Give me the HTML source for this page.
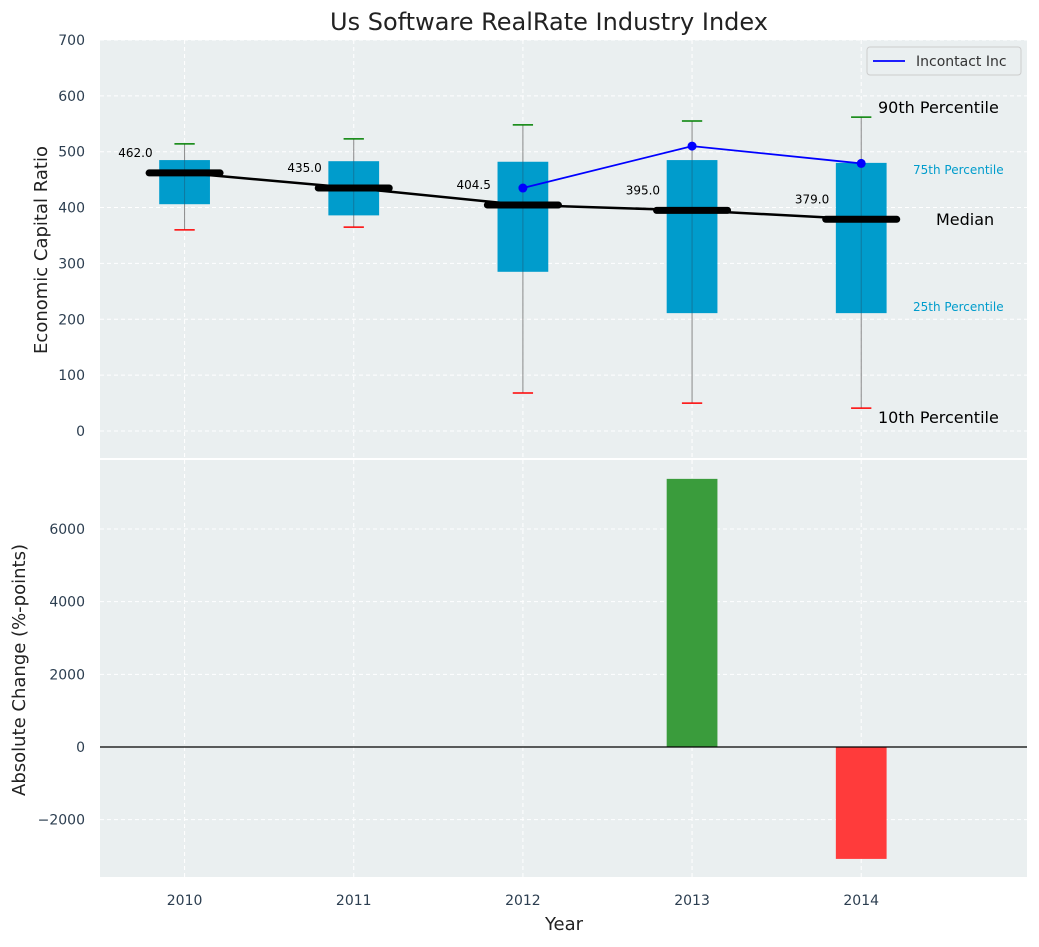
<!DOCTYPE html>
<html><head><meta charset="utf-8"><style>
body{margin:0;background:#fff;font-family:"Liberation Sans","DejaVu Sans",sans-serif}
svg text{font-family:"DejaVu Sans","Liberation Sans",sans-serif}
</style></head><body>
<svg id="c" width="1039" height="942"></svg>
<script>
const years=[2010,2011,2012,2013,2014];
const p10=[360,365,68,50,41];
const p25=[406,386,285,211,211];
const medians=[462,435,404.5,395,379];
const p75=[485,483,482,485,480];
const p90=[514,523,548,555,562];
const companyYears=[2012,2013,2014];
const companyVals=[435,510,479];
const changeVals=[0,0,0,7380,-3080];
const topTicks=[0,100,200,300,400,500,600,700];
const botTicks=[-2000,0,2000,4000,6000];
const NS="http://www.w3.org/2000/svg";
const svg=document.getElementById('c');
function el(t,a,p){const e=document.createElementNS(NS,t);for(const k in a)e.setAttribute(k,a[k]);(p||svg).appendChild(e);return e;}
function tx(x,y,s,a,p){const e=el('text',Object.assign({x:x,y:y},a),p);e.textContent=s;return e;}
const L=100,R=1027;
const X=v=>L+(v-2009.5)*(R-L)/5.48;
const T0=40,T1=458,B0=460,B1=877;
const Y1=v=>431-v*0.5586;
const Y2=v=>747-v*0.036333;
let r=el('rect',{x:L,y:T0,width:R-L,height:T1-T0,fill:'#eaeff0'});

r=el('rect',{x:L,y:B0,width:R-L,height:B1-B0,fill:'#eaeff0'});

years.forEach(y=>{el('line',{x1:X(y),x2:X(y),y1:T0,y2:T1,stroke:'#fff','stroke-dasharray':'4,3'});el('line',{x1:X(y),x2:X(y),y1:B0,y2:B1,stroke:'#fff','stroke-dasharray':'4,3'});
 const t=tx(X(y),905,y,{'text-anchor':'middle','font-size':14,fill:'#2c3e50'});
 });
topTicks.forEach(v=>{el('line',{x1:L,x2:R,y1:Y1(v),y2:Y1(v),stroke:'#fff','stroke-dasharray':'4,3'});
 const t=tx(85,Y1(v)+5,v,{'text-anchor':'end','font-size':14,fill:'#2c3e50'});
 });
botTicks.forEach(v=>{el('line',{x1:L,x2:R,y1:Y2(v),y2:Y2(v),stroke:'#fff','stroke-dasharray':'4,3'});
 const t=tx(85,Y2(v)+5,v<0?'\u2212'+(-v):v,{'text-anchor':'end','font-size':14,fill:'#2c3e50'});
 });
const bw=(R-L)/5.48*0.3, cw=(R-L)/5.48*0.12;
years.forEach((y,i)=>{const x=X(y);
 let w=el('line',{x1:x,x2:x,y1:Y1(p90[i]),y2:Y1(p10[i]),stroke:'#888','stroke-width':1});
 
 let b=el('rect',{x:x-bw/2,y:Y1(p75[i]),width:bw,height:Y1(p25[i])-Y1(p75[i]),fill:'#009ccc'});
 
 el('line',{x1:x,x2:x,y1:Y1(p75[i]),y2:Y1(p25[i]),stroke:'#1a6080','stroke-width':1,opacity:0.6});
 el('line',{x1:x-cw/2,x2:x+cw/2,y1:Y1(p90[i]),y2:Y1(p90[i]),stroke:'green','stroke-width':1.5});
 el('line',{x1:x-cw/2,x2:x+cw/2,y1:Y1(p10[i]),y2:Y1(p10[i]),stroke:'red','stroke-width':1.5});
});
let pts=years.map((y,i)=>X(y)+','+Y1(medians[i])).join(' ');
let ml=el('polyline',{points:pts,fill:'none',stroke:'#000','stroke-width':2.5});

const mw=(R-L)/5.48*0.42;
years.forEach((y,i)=>{const x=X(y);
 let m=el('line',{x1:x-mw/2,x2:x+mw/2,y1:Y1(medians[i]),y2:Y1(medians[i]),stroke:'#000','stroke-width':7,'stroke-linecap':'round'});
 
 const t=tx(x-32,Y1(medians[i])-16,medians[i].toFixed(1),{'text-anchor':'end','font-size':12,fill:'#000'});
 });
let cp=el('polyline',{points:companyYears.map((y,i)=>X(y)+','+Y1(companyVals[i])).join(' '),fill:'none',stroke:'blue','stroke-width':1.8});

companyYears.forEach((y,i)=>{let c=el('circle',{cx:X(y),cy:Y1(companyVals[i]),r:4.5,fill:'blue'});
 });
[['90th Percentile',878,113,16,'#000'],['75th Percentile',913,174,12,'#009ccc'],['Median',936,225,16,'#000'],['25th Percentile',913,311,12,'#009ccc'],['10th Percentile',878,423,16,'#000']].forEach(a=>{
 const t=tx(a[1],a[2],a[0],{'font-size':a[3],fill:a[4]});});
let lg=el('g',{});
el('rect',{x:867,y:47,width:154,height:28,rx:3,fill:'#eaeff0',stroke:'#ccc'},lg);
el('line',{x1:873,x2:905,y1:61,y2:61,stroke:'blue','stroke-width':1.8},lg);
tx(916,66,'Incontact Inc',{'font-size':14,fill:'#333'},lg);
years.forEach((y,i)=>{if(changeVals[i]===0)return;const v=changeVals[i];
 let b=el('rect',{x:X(y)-bw/2,y:Math.min(Y2(v),Y2(0)),width:bw,height:Math.abs(Y2(v)-Y2(0)),fill:v>0?'#3a9c3c':'#ff3b3b'});
 });
el('line',{x1:L,x2:R,y1:Y2(0),y2:Y2(0),stroke:'#000','stroke-width':1.2});
let t=tx(549,30,'Us Software RealRate Industry Index',{'text-anchor':'middle','font-size':24,fill:'#222'});

t=tx(564,930,'Year',{'text-anchor':'middle','font-size':18,fill:'#222'});

t=tx(0,0,'Economic Capital Ratio',{'text-anchor':'middle','font-size':18,fill:'#222',transform:'translate(47,250) rotate(-90)'});

t=tx(0,0,'Absolute Change (%-points)',{'text-anchor':'middle','font-size':18,fill:'#222',transform:'translate(25,670) rotate(-90)'});

</script>
</body></html>
